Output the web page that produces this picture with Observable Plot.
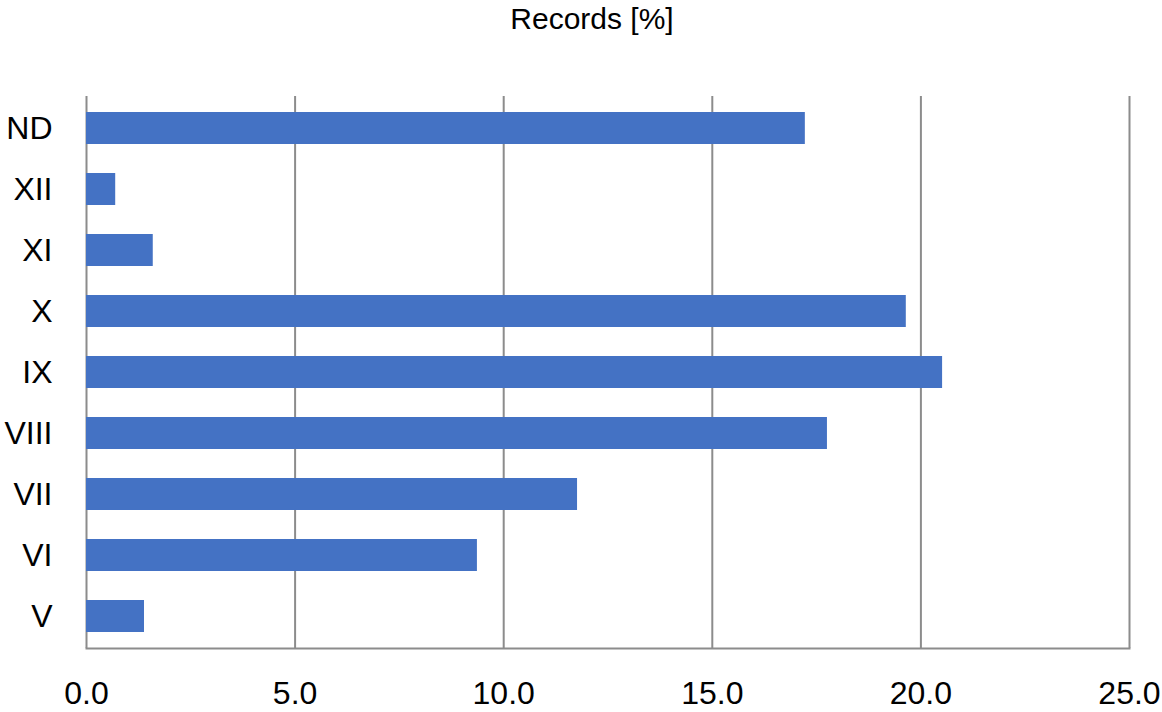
<!DOCTYPE html>
<html>
<head>
<meta charset="utf-8">
<script src="https://cdn.jsdelivr.net/npm/d3@7"></script>
<script src="https://cdn.jsdelivr.net/npm/@observablehq/plot@0.6"></script>
<style>
  body { margin: 0; background: white; }
  #title { width: 1162px; height: 40px; box-sizing: border-box; padding-left: 22px; text-align: center;
           font-family: "Liberation Sans", Arial, sans-serif; font-size: 30px; line-height: 38px; color: black; }
</style>
</head>
<body>
<div id="title">Records [%]</div>
<div id="chart"></div>
<script>
const months = ["ND", "XII", "XI", "X", "IX", "VIII", "VII", "VI", "V"];
const records = [17.23, 0.70, 1.60, 19.65, 20.52, 17.76, 11.77, 9.37, 1.39];
const xTicks = [0, 5, 10, 15, 20, 25];

const data = months.map((m, i) => ({month: m, value: records[i]}));

const chart = Plot.plot({
  width: 1162,
  height: 672,
  marginTop: 56,
  marginBottom: 64,
  marginLeft: 86,
  marginRight: 33,
  style: {fontFamily: "Liberation Sans, Arial, sans-serif", fontSize: "32px", color: "black", background: "white"},
  x: {domain: [0, 25], ticks: xTicks, tickFormat: d => d.toFixed(1), label: null, tickSize: 0, tickPadding: 33},
  y: {domain: months, paddingInner: 0.48, paddingOuter: 0.24, label: null, tickSize: 0, tickPadding: 34},
  marks: [
    Plot.gridX(xTicks, {stroke: "#8c8c8c", strokeOpacity: 1, strokeWidth: 2}),
    Plot.frame({anchor: "bottom", stroke: "#8c8c8c", strokeWidth: 2}),
    Plot.barX(data, {x: "value", y: "month", fill: "#4472C4"})
  ]
});
document.getElementById("chart").appendChild(chart);
</script>
</body>
</html>
